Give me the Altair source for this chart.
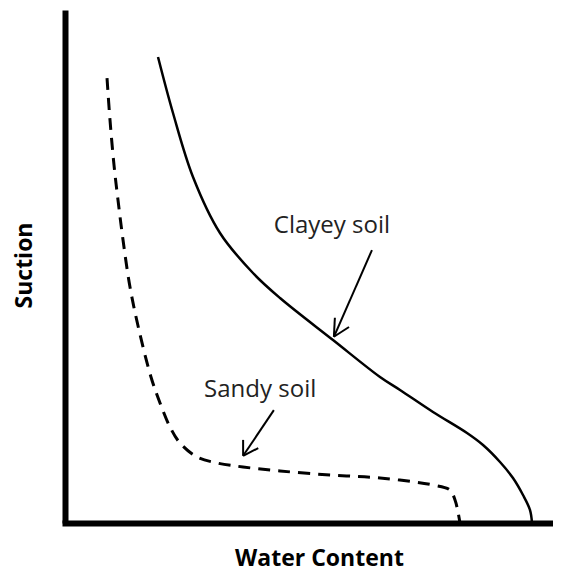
import altair as alt
import pandas as pd

# Soil-water characteristic curves (x: water content, y: suction)
clay_x = [19.06, 22.13, 26.23, 31.76, 38.52, 44.06, 54.92, 64.55, 68.65, 75.41, 82.38,
          85.66, 89.14, 91.80, 93.85, 95.29, 95.70]
clay_y = [90.84, 79.92, 67.45, 56.53, 48.73, 43.86, 35.67, 28.46, 25.93, 21.64, 17.54,
          15.20, 11.89, 8.77, 5.46, 2.53, 0.0]

sand_x = [8.61, 9.22, 10.04, 10.86, 11.89, 13.32, 15.16, 17.62, 19.47, 21.52, 23.57, 27.05,
          31.15, 36.48, 44.06, 54.30, 64.55, 75.41, 78.89, 79.92, 80.53, 80.94]
sand_y = [86.74, 78.56, 69.79, 62.96, 55.17, 46.00, 37.62, 28.46, 23.39, 18.71, 15.59, 12.87,
          11.70, 10.92, 10.14, 9.36, 8.77, 7.41, 6.43, 4.48, 2.14, 0.0]

label_text = ["Clayey soil", "Sandy soil"]
label_x = [54.7, 40.0]
label_y = [56.5, 24.6]

# arrow segments: shaft and two head wings for each label
seg_x = [62.9, 55.1, 55.1, 42.8, 36.5, 36.5]
seg_y = [53.2, 36.3, 36.3, 22.0, 13.1, 13.1]
seg_x2 = [55.1, 55.3, 58.2, 36.5, 36.5, 39.6]
seg_y2 = [36.3, 40.0, 38.2, 13.1, 16.2, 14.6]

clay = pd.DataFrame({"x": clay_x, "y": clay_y, "i": range(len(clay_x))})
sand = pd.DataFrame({"x": sand_x, "y": sand_y, "i": range(len(sand_x))})
labels = pd.DataFrame({"x": label_x, "y": label_y, "t": label_text})
segs = pd.DataFrame({"x": seg_x, "y": seg_y, "x2": seg_x2, "y2": seg_y2})

xscale = alt.Scale(domain=[0, 100], nice=False, zero=False)
yscale = alt.Scale(domain=[0, 100], nice=False, zero=False)

xaxis = alt.Axis(
    title="Water Content", domain=True, domainWidth=6, domainColor="black",
    domainCap="square", ticks=False, labels=False, grid=False,
    titleFont="Open Sans", titleFontSize=23, titleFontWeight="bold", titleColor="black",
    titleX=254, titleY=35, titleBaseline="middle", titleAlign="center",
)
yaxis = alt.Axis(
    title="Suction", domain=True, domainWidth=6, domainColor="black",
    domainCap="butt", ticks=False, labels=False, grid=False,
    titleFont="Open Sans", titleFontSize=23, titleFontWeight="bold", titleColor="black",
    titleX=-41, titleY=255, titleAngle=270, titleBaseline="middle", titleAlign="center",
)

base_x = alt.X("x:Q", scale=xscale, axis=xaxis)
base_y = alt.Y("y:Q", scale=yscale, axis=yaxis)

clay_line = alt.Chart(clay).mark_line(
    color="black", strokeWidth=2.5, interpolate="catmull-rom"
).encode(x=base_x, y=base_y, order="i:Q")

sand_line = alt.Chart(sand).mark_line(
    color="black", strokeWidth=3, strokeDash=[12, 8], interpolate="catmull-rom"
).encode(x="x:Q", y="y:Q", order="i:Q")

arrows = alt.Chart(segs).mark_rule(color="black", strokeWidth=2).encode(
    x="x:Q", y="y:Q", x2="x2:Q", y2="y2:Q"
)

texts = alt.Chart(labels).mark_text(
    font="Open Sans", fontSize=24, color="#222222", align="center", baseline="alphabetic"
).encode(x="x:Q", y="y:Q", text="t:N")

chart = alt.layer(clay_line, sand_line, arrows, texts).properties(
    width=488, height=513,
    autosize=alt.AutoSizeParams(type="none"),
    padding={"left": 57, "top": 2, "right": 0, "bottom": 50},
).configure_view(stroke=None)

chart.save("out.html", embed_options={"renderer": "svg", "actions": False})
